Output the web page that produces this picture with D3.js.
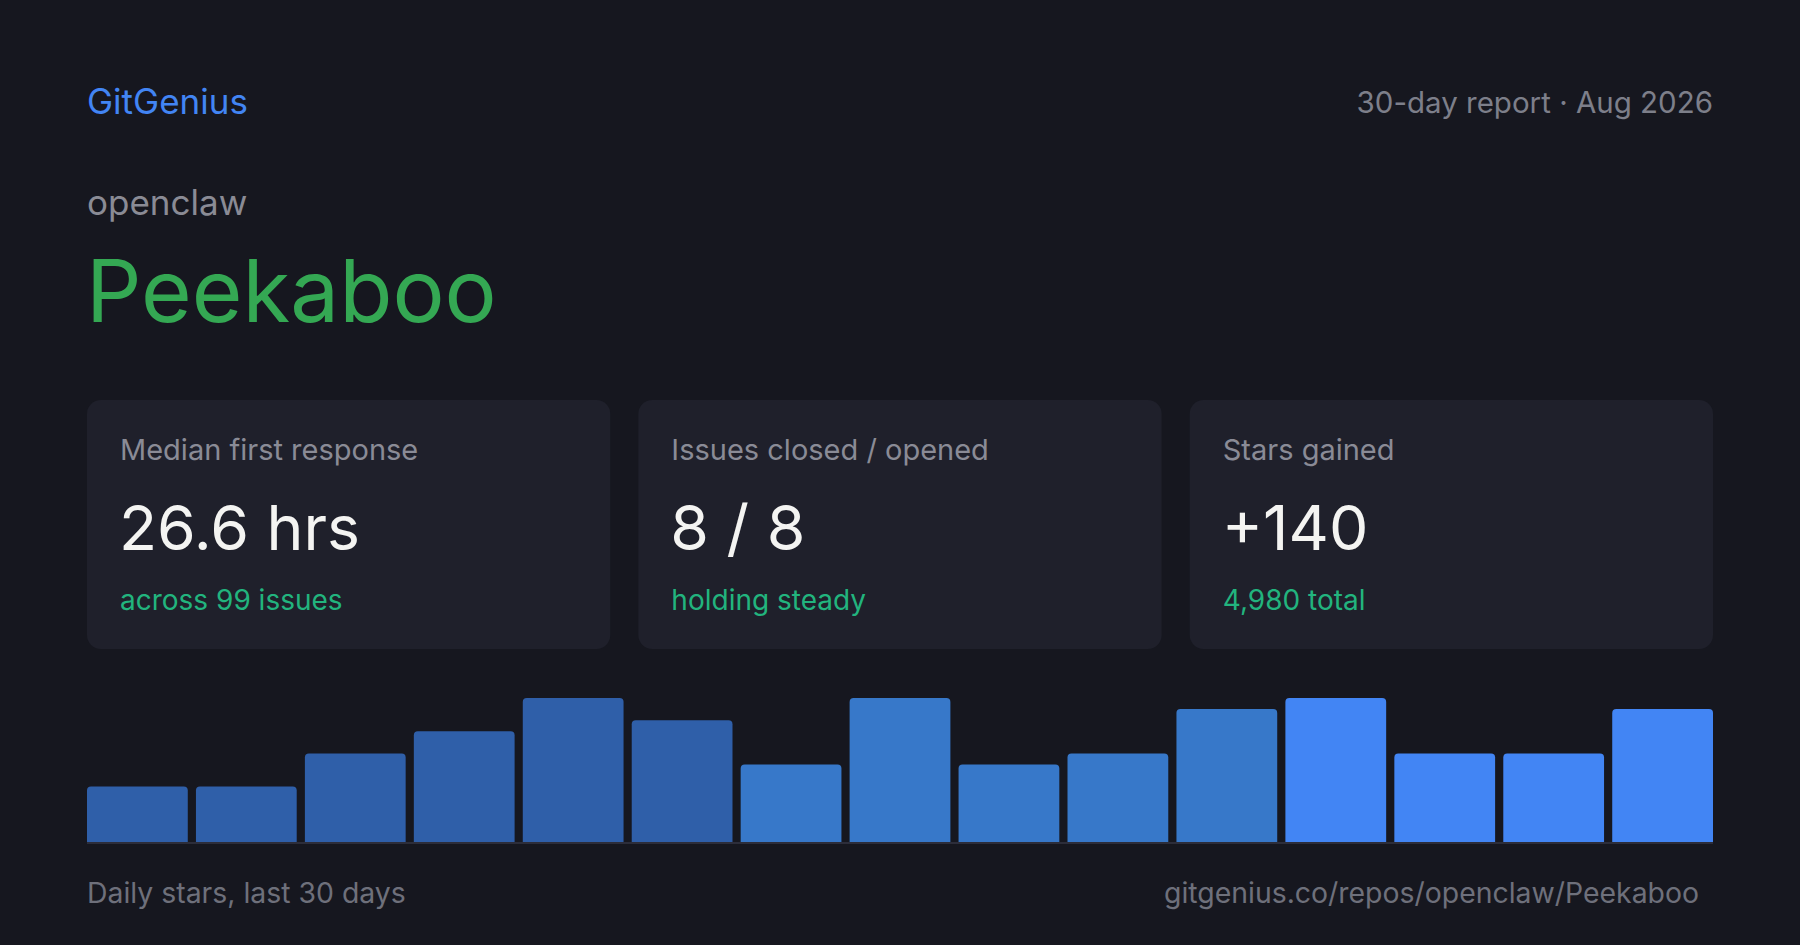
<!DOCTYPE html>
<html>
<head>
    <title>Peekaboo report</title>
    <meta charset="UTF-8">
    <!-- link to D3.js -->
    <script src="https://d3js.org/d3.v7.min.js"></script>
    <style>
        html, body { margin: 0; padding: 0; background: #16171f; }
        svg { display: block; font-family: Inter, "Noto Sans", sans-serif; }
    </style>
</head>

<body>
    <div id="myDiv"></div>
</body>

<script>
    // header texts
    var brand = "GitGenius";
    var period = "30-day report · Aug 2026";
    var owner = "openclaw";
    var repo = "Peekaboo";

    // stat cards
    var cardLabels = ["Median first response", "Issues closed / opened", "Stars gained"];
    var cardValues = ["26.6 hrs", "8 / 8", "+140"];
    var cardNotes = ["across 99 issues", "holding steady", "4,980 total"];

    // daily stars, one bar per pair of days
    var starDays = d3.range(1, 16);
    var starCounts = [5, 5, 8, 10, 13, 11, 7, 13, 7, 8, 12, 13, 8, 8, 12];

    // footer texts
    var footLeft = "Daily stars, last 30 days";
    var footRight = "gitgenius.co/repos/openclaw/Peekaboo";

    // some useful measurements
    var width = 1800;
    var height = 945;
    var left = 87;
    var right = 1713;

    var svg = d3.select("#myDiv").append("svg")
        .attr("width", width)
        .attr("height", height);

    svg.append("rect")
        .attr("width", width)
        .attr("height", height)
        .attr("fill", "#16171f");

    // header
    svg.append("text")
        .attr("x", left).attr("y", 114)
        .attr("font-size", "35px")
        .attr("fill", "#4285f4")
        .text(brand);

    svg.append("text")
        .attr("x", right).attr("y", 113)
        .attr("text-anchor", "end")
        .attr("font-size", "29.5px")
        .attr("fill", "#7d7f8a")
        .text(period);

    svg.append("text")
        .attr("x", left).attr("y", 215)
        .attr("font-size", "35px")
        .attr("fill", "#8a8b95")
        .text(owner);

    svg.append("text")
        .attr("x", left - 1).attr("y", 322)
        .attr("font-size", "87px")
        .attr("fill", "#34a853")
        .text(repo);

    // cards
    var cardScale = d3.scaleBand()
        .domain(d3.range(cardLabels.length))
        .range([left, right])
        .paddingInner(0.051);

    var cards = svg.selectAll("g.card")
        .data(cardLabels)
        .enter()
        .append("g")
        .attr("class", "card")
        .attr("transform", function(d, i) { return "translate(" + cardScale(i) + ",400)"; });

    cards.append("rect")
        .attr("width", cardScale.bandwidth())
        .attr("height", 249)
        .attr("rx", 14)
        .attr("fill", "#1f202b");

    cards.append("text")
        .attr("x", 33).attr("y", 60)
        .attr("font-size", "29px")
        .attr("fill", "#8a8b96")
        .text(function(d) { return d; });

    cards.append("text")
        .attr("x", 32).attr("y", 150)
        .attr("font-size", "62.5px")
        .attr("fill", "#f4f4f2")
        .text(function(d, i) { return cardValues[i]; });

    cards.append("text")
        .attr("x", 33).attr("y", 210)
        .attr("font-size", "28px")
        .attr("fill", "#22b47e")
        .text(function(d, i) { return cardNotes[i]; });

    // bar chart
    var xScale = d3.scaleBand()
        .domain(starDays)
        .range([left, right])
        .paddingInner(0.075);

    var yScale = d3.scaleLinear()
        .domain([0, d3.max(starCounts)])
        .range([842, 698]);

    // older days darker, recent days brighter
    var barColour = d3.scaleThreshold()
        .domain([7, 12])
        .range(["#2f5fa9", "#3778c9", "#4285f4"]);

    // bar with rounded top corners only
    function barPath(x, y, w, h, r) {
        return "M" + x + "," + (y + h) +
            "V" + (y + r) +
            "Q" + x + "," + y + " " + (x + r) + "," + y +
            "H" + (x + w - r) +
            "Q" + (x + w) + "," + y + " " + (x + w) + "," + (y + r) +
            "V" + (y + h) + "Z";
    }

    svg.selectAll("path.bar")
        .data(starCounts)
        .enter()
        .append("path")
        .attr("class", "bar")
        .attr("fill", function(d, i) { return barColour(starDays[i]); })
        .attr("d", function(d, i) {
            return barPath(xScale(starDays[i]), yScale(d), xScale.bandwidth(), yScale(0) - yScale(d), 4);
        });

    // baseline
    svg.append("line")
        .attr("x1", left).attr("x2", right)
        .attr("y1", yScale(0) + 1).attr("y2", yScale(0) + 1)
        .attr("stroke", "#2c2d3a")
        .attr("stroke-width", 2);

    // footer
    svg.append("text")
        .attr("x", left).attr("y", 903)
        .attr("font-size", "28.4px")
        .attr("fill", "#6e707b")
        .text(footLeft);

    svg.append("text")
        .attr("x", 1699).attr("y", 903)
        .attr("text-anchor", "end")
        .attr("font-size", "28.4px")
        .attr("fill", "#6e707b")
        .text(footRight);
</script>

</html>
